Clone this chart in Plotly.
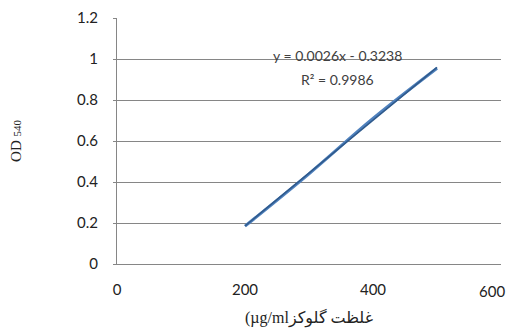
import numpy as np
import plotly.graph_objects as go

concentration = [200, 300, 400, 500]
od540 = [0.185, 0.44, 0.71, 0.955]
x_ticks = [0, 200, 400, 600]
x_tick_labels = ["0", "200", "400", ""]
last_x_label = "600"
y_ticks = [0, 0.2, 0.4, 0.6, 0.8, 1, 1.2]
y_tick_labels = ["0", "0.2", "0.4", "0.6", "0.8", "1", "1.2"]
equation_text = "y = 0.0026x - 0.3238"
r2_text = "R² = 0.9986"

slope, intercept = np.polyfit(concentration, od540, 1)
trend_x = [concentration[0], concentration[-1]]
trend_y = [slope * v + intercept for v in trend_x]

tick_font = dict(family="Lato, Open Sans", size=15, color="#222")

fig = go.Figure()
fig.add_trace(go.Scatter(x=concentration, y=od540, mode="lines",
                         line=dict(color="#4F81BD", width=3, shape="spline"),
                         showlegend=False))
fig.add_trace(go.Scatter(x=trend_x, y=trend_y, mode="lines",
                         line=dict(color="#2F5A8C", width=1.5),
                         showlegend=False))

fig.add_annotation(x=345, y=1.015, xref="x", yref="y", text=equation_text,
                   showarrow=False, font=dict(family="Lato, Open Sans", size=14, color="#404040"))
fig.add_annotation(x=345, y=0.9, xref="x", yref="y", text=r2_text,
                   showarrow=False, font=dict(family="Lato, Open Sans", size=14, color="#404040"))
fig.add_annotation(x=x_ticks[-1], y=0, xref="x", yref="y", text=last_x_label,
                   showarrow=False, xanchor="center", yanchor="top",
                   xshift=-9, yshift=-16, font=tick_font)

fig.update_layout(
    width=509, height=320,
    margin=dict(l=109, r=16, t=10, b=64),
    paper_bgcolor="white", plot_bgcolor="white",
    xaxis=dict(range=[0, 600], tickvals=x_ticks, ticktext=x_tick_labels,
               showgrid=False, zeroline=False,
               showline=True, linecolor="#868686", linewidth=1, automargin=False,
               ticks="", ticklabelstandoff=12, tickfont=tick_font,
               title=dict(text="(µg/mlغلظت گلوکز", standoff=16,
                          font=dict(family="Liberation Serif, DejaVu Sans", size=16, color="#222"))),
    yaxis=dict(range=[0, 1.2], tickvals=y_ticks, ticktext=y_tick_labels,
               showgrid=True, gridcolor="#868686", gridwidth=1, zeroline=False,
               showline=True, linecolor="#868686", linewidth=1, automargin=False,
               ticks="outside", ticklen=3, tickcolor="#868686", ticklabelstandoff=12,
               tickfont=tick_font,
               title=dict(text="OD <span style='font-size:11px'>540</span>", standoff=52,
                          font=dict(family="Liberation Serif", size=15, color="#222"))),
)

fig.write_html("out.html")
